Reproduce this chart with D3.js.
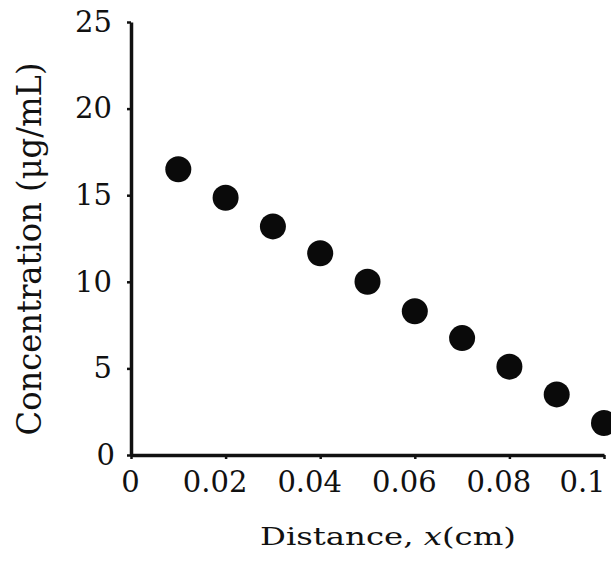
<!DOCTYPE html>
<html>
<head>
<meta charset="utf-8">
<script src="https://cdn.jsdelivr.net/npm/d3@7"></script>
<style>
  body { margin: 0; background: #fff; }
  svg text { font-family: "DejaVu Serif", "Liberation Serif", serif; fill: #111; }
  .axis path, .axis line { stroke: #111; }
</style>
</head>
<body>
<div id="chart"></div>
<script>
// values
const distance = [0.01, 0.02, 0.03, 0.04, 0.05, 0.06, 0.07, 0.08, 0.09, 0.1]
const concentration = [16.5, 14.85, 13.2, 11.65, 10.0, 8.3, 6.75, 5.1, 3.5, 1.85]
const xTicks = [0, 0.02, 0.04, 0.06, 0.08, 0.1]
const yTicks = [0, 5, 10, 15, 20, 25]
const xTitle = ['Distance, ', 'x', '(cm)']
const yTitle = 'Concentration (μg/mL)'

const w = 611,
  h = 566,
  margin = { top: 22, left: 131, right: 7, bottom: 111 }
const innerW = w - margin.left - margin.right,
  innerH = h - margin.top - margin.bottom

const svg = d3.select('#chart').append('svg').attr('width', w).attr('height', h)
const g = svg.append('g').attr('transform', `translate(${margin.left}, ${margin.top})`)

const x = d3.scaleLinear().domain([0, 0.1]).range([0, innerW])
const y = d3.scaleLinear().domain([0, 25]).range([innerH, 0])

// axes
const xAxis = d3.axisBottom(x).tickValues(xTicks).tickFormat(d3.format('~g'))
  .tickSizeInner(4).tickSizeOuter(0).tickPadding(12)
const gx = g.append('g').classed('axis xAxis', true)
  .attr('transform', `translate(0, ${innerH})`)
  .call(xAxis)
gx.select('.domain').attr('stroke-width', 3.5)
gx.selectAll('.tick line').attr('stroke-width', 2.5)
gx.selectAll('.tick text')
  .attr('font-size', '29px')
  .attr('dx', d => d === 0 ? -1 : d >= 0.1 ? -22 : -11)

const yAxis = d3.axisLeft(y).tickValues(yTicks)
  .tickSizeInner(4).tickSizeOuter(0).tickPadding(15)
const gy = g.append('g').classed('axis yAxis', true).call(yAxis)
gy.select('.domain').attr('stroke-width', 3.5)
gy.selectAll('.tick line').attr('stroke-width', 2.5)
gy.selectAll('.tick text').attr('font-size', '29px')
  .attr('dx', d => d === 0 ? 3 : 0)

// points
g.selectAll('.dot').data(distance).enter().append('circle').classed('dot', true)
  .attr('cx', d => x(d))
  .attr('cy', (d, i) => y(concentration[i]))
  .attr('r', 13)
  .attr('fill', '#0a0a0a')

// titles
const xt = svg.append('text')
  .attr('x', 388).attr('y', 545)
  .attr('text-anchor', 'middle')
  .attr('font-size', '24px')
  .attr('textLength', 256).attr('lengthAdjust', 'spacingAndGlyphs')
xt.selectAll('tspan').data(xTitle).enter().append('tspan')
  .text(d => d)
  .attr('font-style', (d, i) => i === 1 ? 'italic' : null)

svg.append('text').text(yTitle)
  .attr('transform', 'translate(41, 249) rotate(-90)')
  .attr('text-anchor', 'middle')
  .attr('font-size', '33px')
  .attr('textLength', 373).attr('lengthAdjust', 'spacingAndGlyphs')
</script>
</body>
</html>
